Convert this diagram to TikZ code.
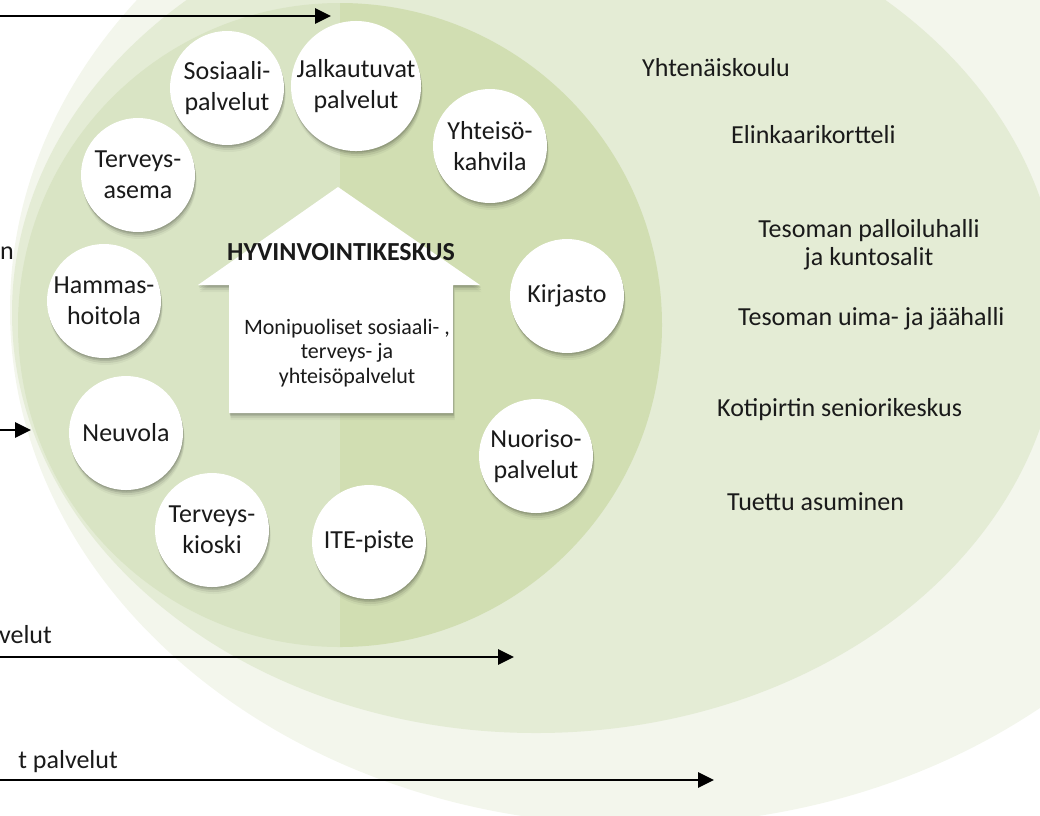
\documentclass[tikz,border=0pt]{standalone}
\usepackage{fontspec}
\setmainfont{Carlito}
\usetikzlibrary{arrows.meta,shadows}
\definecolor{outerc}{HTML}{F3F6EC}
\definecolor{midc}{HTML}{E4ECD5}
\definecolor{innL}{HTML}{D9E4C4}
\definecolor{innR}{HTML}{D1DEB2}
\definecolor{txt}{HTML}{1A1A1A}
\begin{document}
\begin{tikzpicture}[x=1pt,y=-1pt,
  softshadow/.style={
    drop shadow={shadow xshift=0.5pt, shadow yshift=-1.5pt, opacity=0.12, fill=black},
    drop shadow={shadow xshift=1pt, shadow yshift=-3pt, opacity=0.10, fill=black},
    drop shadow={shadow xshift=1.5pt, shadow yshift=-5pt, opacity=0.07, fill=black},
    drop shadow={shadow xshift=1.5pt, shadow yshift=-7pt, opacity=0.04, fill=black}},
  svc/.style={circle, fill=white, minimum size=114pt, inner sep=0pt, align=center,
    text=txt, font=\fontsize{26}{31}\selectfont, softshadow},
  lbl/.style={text=txt, font=\fontsize{26}{31}\selectfont, inner sep=0pt},
  arr/.style={draw=black, line width=2.8pt, -{Triangle[length=16pt,width=15pt]}}]
\useasboundingbox (0,0) rectangle (1040,815);
\clip (0,0) rectangle (1040,815);
% nested ellipses
\fill[outerc] (640,310) ellipse [x radius=630, y radius=515];
\fill[midc] (536,313) ellipse [x radius=524, y radius=420];
\begin{scope}
  \clip (340,325) circle [radius=322];
  \fill[innL] (0,-10) rectangle (340,700);
  \fill[innR] (340,-10) rectangle (700,700);
\end{scope}
% house
\fill[white, softshadow] (338,187) -- (480,285) -- (453,285) -- (453,413)
   -- (229,413) -- (229,285) -- (198,285) -- cycle;
\node[lbl, anchor=base, font=\fontsize{26}{30}\selectfont\bfseries] (title) at (341,260) {HYVINVOINTIKESKUS};
\node[lbl, anchor=base, align=center, font=\fontsize{22}{24.5}\selectfont] (desc) at (347,383)
  {Monipuoliset sosiaali- ,\\terveys- ja\\yhteisöpalvelut};
% service circles
\node[svc] (sos) at (227,88) {Sosiaali-\\palvelut};
\node[svc] (jalk) at (356,86) {Jalkautuvat\\palvelut};
\node[svc] (yht) at (490,146) {Yhteisö-\\kahvila};
\node[svc] (ter) at (138,175) {Terveys-\\asema};
\node[svc] (ham) at (104,301) {Hammas-\\hoitola};
\node[svc] (kir) at (567,296) {Kirjasto};
\node[svc] (neu) at (126,433) {Neuvola};
\node[svc] (nuo) at (536,456) {Nuoriso-\\palvelut};
\node[svc] (kio) at (212,530) {Terveys-\\kioski};
\node[svc] (ite) at (369,542) {ITE-piste};
% right texts
\node[lbl, anchor=base west] (t1) at (642,76) {Yhtenäiskoulu};
\node[lbl, anchor=base west] (t2) at (731,143) {Elinkaarikortteli};
\node[lbl, anchor=base, align=center, font=\fontsize{26}{27.5}\selectfont] (t3) at (869,265) {Tesoman palloiluhalli\\ja kuntosalit};
\node[lbl, anchor=base west] (t4) at (738,325) {Tesoman uima- ja jäähalli};
\node[lbl, anchor=base west] (t5) at (717,416) {Kotipirtin seniorikeskus};
\node[lbl, anchor=base west] (t6) at (727,510) {Tuettu asuminen};
% left cut labels
\node[lbl, anchor=base east] (l1) at (14,259) {n};
\node[lbl, anchor=base east] (l2) at (52,643) {velut};
\node[lbl, anchor=base east] (l3) at (118,768) {t palvelut};
% arrows
\coordinate (a1s) at (0,16);  \coordinate (a1e) at (331,16);
\coordinate (a2s) at (0,430); \coordinate (a2e) at (31,430);
\coordinate (a3s) at (0,657); \coordinate (a3e) at (514,657);
\coordinate (a4s) at (0,780); \coordinate (a4e) at (714,780);
\draw[arr] (a1s) -- (a1e);
\draw[arr] (a2s) -- (a2e);
\draw[arr] (a3s) -- (a3e);
\draw[arr] (a4s) -- (a4e);
\end{tikzpicture}
\end{document}
